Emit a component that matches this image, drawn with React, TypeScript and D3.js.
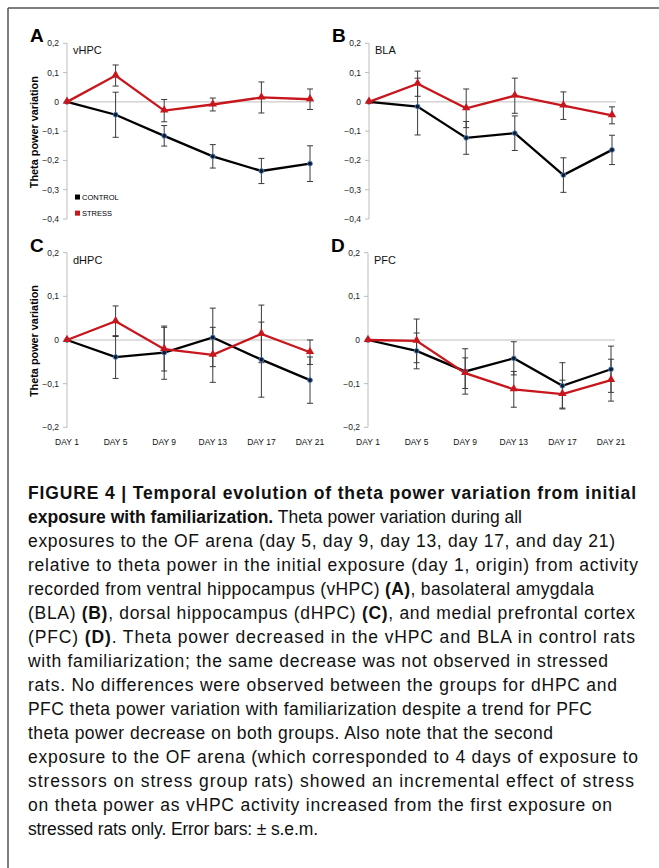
import * as d3 from "d3";

const days = ["DAY 1", "DAY 5", "DAY 9", "DAY 13", "DAY 17", "DAY 21"];

const topTicks = [0.2, 0.1, 0, -0.1, -0.2, -0.3, -0.4];
const bottomTicks = [0.2, 0.1, 0, -0.1, -0.2];

// vHPC
const vhpcControl = [0, -0.044, -0.116, -0.186, -0.236, -0.211];
const vhpcControlErr = [0, 0.077, 0.035, 0.04, 0.043, 0.061];
const vhpcStress = [0, 0.09, -0.03, -0.009, 0.015, 0.009];
const vhpcStressErr = [0, 0.036, 0.038, 0.022, 0.053, 0.035];

// BLA
const blaControl = [0, -0.016, -0.123, -0.107, -0.25, -0.164];
const blaControlErr = [0, 0.097, 0.056, 0.059, 0.059, 0.05];
const blaStress = [0, 0.062, -0.022, 0.021, -0.013, -0.046];
const blaStressErr = [0, 0.043, 0.066, 0.06, 0.047, 0.029];

// dHPC
const dhpcControl = [0, -0.039, -0.029, 0.006, -0.045, -0.092];
const dhpcControlErr = [0, 0.049, 0.061, 0.067, 0.086, 0.053];
const dhpcStress = [0, 0.043, -0.021, -0.034, 0.014, -0.028];
const dhpcStressErr = [0, 0.035, 0.05, 0.063, 0.066, 0.028];

// PFC
const pfcControl = [0, -0.025, -0.072, -0.042, -0.105, -0.067];
const pfcControlErr = [0, 0.041, 0.052, 0.038, 0.053, 0.053];
const pfcStress = [0, -0.002, -0.076, -0.113, -0.124, -0.092];
const pfcStressErr = [0, 0.05, 0.035, 0.041, 0.032, 0.048];

// caption lines: [text, bold] segments and the line's right end
const captionLines: [string, boolean][][] = [
  [["FIGURE 4 | Temporal evolution of theta power variation from initial", true]],
  [["exposure with familiarization.", true], [" Theta power variation during all", false]],
  [["exposures to the OF arena (day 5, day 9, day 13, day 17, and day 21)", false]],
  [["relative to theta power in the initial exposure (day 1, origin) from activity", false]],
  [["recorded from ventral hippocampus (vHPC) ", false], ["(A)", true], [", basolateral amygdala", false]],
  [["(BLA) ", false], ["(B)", true], [", dorsal hippocampus (dHPC) ", false], ["(C)", true], [", and medial prefrontal cortex", false]],
  [["(PFC) ", false], ["(D)", true], [". Theta power decreased in the vHPC and BLA in control rats", false]],
  [["with familiarization; the same decrease was not observed in stressed", false]],
  [["rats. No differences were observed between the groups for dHPC and", false]],
  [["PFC theta power variation with familiarization despite a trend for PFC", false]],
  [["theta power decrease on both groups. Also note that the second", false]],
  [["exposure to the OF arena (which corresponded to 4 days of exposure to", false]],
  [["stressors on stress group rats) showed an incremental effect of stress", false]],
  [["on theta power as vHPC activity increased from the first exposure on", false]],
  [["stressed rats only. Error bars: \u00b1 s.e.m.", false]],
];
const captionEnds = [636, 522, 615, 638, 594, 635, 635, 608, 617, 592, 553, 638, 634, 612, 318];

const RED = "#c8161d";
const SANS = "'Liberation Sans', Arial, sans-serif";
const fmt = (v: number) => (v === 0 ? "0" : d3.format(".1f")(v).replace(".", ","));

type PanelProps = {
  letter: string;
  region: string;
  ax: number;
  yTop: number;
  yBottom: number;
  ticks: number[];
  control: number[];
  controlErr: number[];
  stress: number[];
  stressErr: number[];
  yTitle: boolean;
  xLabels: boolean;
  legend: boolean;
};

function Panel(p: PanelProps) {
  const x = d3.scalePoint<string>().domain(days).range([p.ax, p.ax + 243]);
  const y = d3
    .scaleLinear()
    .domain([p.ticks[p.ticks.length - 1], p.ticks[0]])
    .range([p.yBottom, p.yTop]);
  const line = d3
    .line<number>()
    .x((_, i) => x(days[i]) as number)
    .y((d) => y(d));
  const tri = d3.symbol(d3.symbolTriangle, 30)();
  const errBars = (vals: number[], errs: number[], key: string) =>
    vals.map((v, i) => {
      if (errs[i] <= 0) return null;
      const cx = x(days[i]) as number;
      return (
        <g key={key + i} stroke="#3a3a3a" strokeWidth={1}>
          <line x1={cx} x2={cx} y1={y(v + errs[i])} y2={y(v - errs[i])} />
          <line x1={cx - 3} x2={cx + 3} y1={y(v + errs[i])} y2={y(v + errs[i])} />
          <line x1={cx - 3} x2={cx + 3} y1={y(v - errs[i])} y2={y(v - errs[i])} />
        </g>
      );
    });
  const top = y(p.ticks[0]);
  const bottom = y(p.ticks[p.ticks.length - 1]);
  return (
    <g>
      <text x={p.ax - 37} y={top - 1} fontFamily={SANS} fontWeight="bold" fontSize={19}>
        {p.letter}
      </text>
      {/* y axis */}
      <line x1={p.ax} x2={p.ax} y1={top} y2={bottom} stroke="#bdbdbd" />
      {p.ticks.map((t) => (
        <g key={t}>
          <line x1={p.ax - 4} x2={p.ax} y1={y(t)} y2={y(t)} stroke="#bdbdbd" />
          <text x={p.ax - 8} y={y(t) + 3} textAnchor="end" fontSize={8.5} fontFamily={SANS} fill="#222">
            {fmt(t)}
          </text>
        </g>
      ))}
      <line x1={p.ax} x2={p.ax + 247} y1={y(0)} y2={y(0)} stroke="#bdbdbd" />
      <text x={p.ax + 6} y={top + 11} fontSize={11} fontFamily={SANS} fill="#111">
        {p.region}
      </text>
      {p.yTitle && (
        <text
          transform={`translate(${p.ax - 29},${(top + bottom) / 2 + 1}) rotate(-90)`}
          textAnchor="middle"
          fontSize={10.5}
          fontWeight="bold"
          textLength={112}
          lengthAdjust="spacingAndGlyphs"
          fontFamily={SANS}
        >
          Theta power variation
        </text>
      )}
      {p.xLabels &&
        days.map((d) => (
          <text key={d} x={x(d)} y={p.yBottom + 18} textAnchor="middle" fontSize={8.5} fontFamily={SANS} fill="#111">
            {d}
          </text>
        ))}
      {errBars(p.stress, p.stressErr, "s")}
      {errBars(p.control, p.controlErr, "c")}
      <path d={line(p.control) as string} fill="none" stroke="#000" strokeWidth={2.3} />
      <path d={line(p.stress) as string} fill="none" stroke={RED} strokeWidth={2.3} />
      {p.control.map((v, i) => (
        <circle key={i} cx={x(days[i])} cy={y(v)} r={2.4} fill="#0b1a30" stroke="#4f81bd" strokeWidth={0.9} />
      ))}
      {p.stress.map((v, i) => (
        <path key={i} d={tri as string} transform={`translate(${x(days[i])},${y(v) - 0.5})`} fill={RED} />
      ))}
      {p.legend && (
        <g fontFamily={SANS} fontSize={7.5}>
          <rect x={p.ax + 8} y={y(-0.325) - 2.5} width={5} height={5} fill="#000" />
          <text x={p.ax + 15} y={y(-0.325) + 2.8}>CONTROL</text>
          <rect x={p.ax + 8} y={y(-0.38) - 2.5} width={5} height={5} fill={RED} />
          <text x={p.ax + 15} y={y(-0.38) + 2.8}>STRESS</text>
        </g>
      )}
    </g>
  );
}

export default function App() {
  const capX = 28;
  return (
    <svg width={659} height={868} style={{ position: "absolute", left: 0, top: 0, background: "#fff" }}>
      <rect width={659} height={868} fill="#fff" />
      <line x1={8} x2={659} y1={8} y2={8} stroke="#555" strokeWidth={1.5} />
      <line x1={8} x2={8} y1={8} y2={868} stroke="#555" strokeWidth={1.5} />

      <Panel letter="A" region="vHPC" ax={67} yTop={43.3} yBottom={219} ticks={topTicks}
        control={vhpcControl} controlErr={vhpcControlErr} stress={vhpcStress} stressErr={vhpcStressErr}
        yTitle xLabels={false} legend />
      <Panel letter="B" region="BLA" ax={369} yTop={43.3} yBottom={219} ticks={topTicks}
        control={blaControl} controlErr={blaControlErr} stress={blaStress} stressErr={blaStressErr}
        yTitle={false} xLabels={false} legend={false} />
      <Panel letter="C" region="dHPC" ax={67} yTop={252.7} yBottom={427.3} ticks={bottomTicks}
        control={dhpcControl} controlErr={dhpcControlErr} stress={dhpcStress} stressErr={dhpcStressErr}
        yTitle xLabels legend={false} />
      <Panel letter="D" region="PFC" ax={368} yTop={252.7} yBottom={427.3} ticks={bottomTicks}
        control={pfcControl} controlErr={pfcControlErr} stress={pfcStress} stressErr={pfcStressErr}
        yTitle={false} xLabels legend={false} />

      <g fontFamily={SANS} fontSize={17.5} fill="#111">
        {captionLines.map((ln, i) => (
          <text key={i} x={capX} y={499 + i * 24} textLength={captionEnds[i] - capX} lengthAdjust="spacing">
            {ln.map(([t, b], j) => (
              <tspan key={j} fontWeight={b ? "bold" : "normal"}>
                {t}
              </tspan>
            ))}
          </text>
        ))}
      </g>
    </svg>
  );
}
